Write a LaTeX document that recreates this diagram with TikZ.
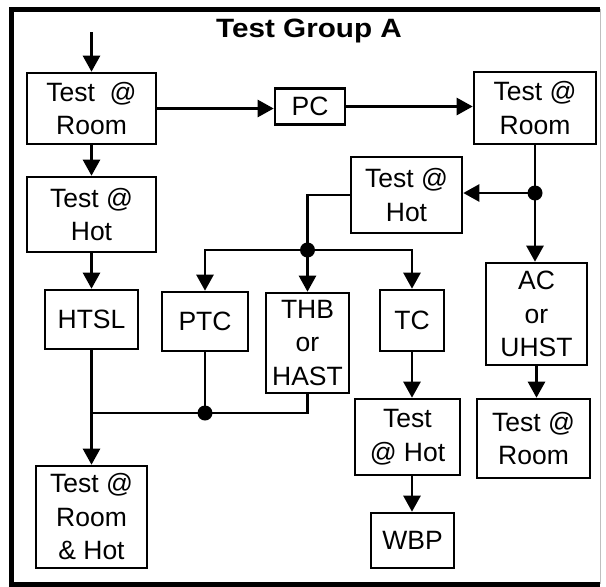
\documentclass[tikz,border=0pt]{standalone}
\usepackage{fontspec}
\setmainfont{Liberation Sans}
\usetikzlibrary{arrows.meta}
\begin{document}
\begin{tikzpicture}[x=1pt,y=-1pt,
  box/.style={draw,line width=2.6pt,rectangle,inner sep=0pt,align=center,
    font=\fontsize{26.5}{33.5}\selectfont},
  conn/.style={line width=2.6pt},
  arr/.style={conn,-{Triangle[length=16pt,width=17pt]}},
  dot/.style={circle,fill=black,inner sep=0pt,minimum size=15pt}]
\useasboundingbox (0,0) rectangle (606,587);
% frame
\draw[line width=5pt] (600,9) -- (11,9) -- (11,584) -- (600,584);
\draw[line width=1pt,black!25] (600,9) -- (600,584);
\node[font=\fontsize{26.5}{30}\selectfont\bfseries,xscale=1.12] (title) at (309,31) {Test Group A};
% boxes
\node[box,minimum width=129pt,minimum height=71pt] (r1) at (91.5,108.5) {Test\ \ @\\Room};
\node[box,minimum width=129pt,minimum height=75pt] (h1) at (91.5,214.5) {Test @\\Hot};
\node[box,minimum width=70pt,minimum height=36pt] (pc) at (310,106.5) {PC};
\node[box,minimum width=122pt,minimum height=72pt] (r2) at (535,108) {Test @\\Room};
\node[box,minimum width=111pt,minimum height=76pt] (h2) at (406.5,195) {Test @\\Hot};
\node[box,minimum width=101pt,minimum height=102pt] (ac) at (536.5,314) {AC\\or\\UHST};
\node[box,minimum width=113pt,minimum height=79pt] (r3) at (533.5,438.5) {Test @\\Room};
\node[box,minimum width=64pt,minimum height=61pt] (tc) at (412,320.5) {TC};
\node[box,minimum width=105pt,minimum height=76pt] (h3) at (407.5,437) {Test\\@ Hot};
\node[box,minimum width=83pt,minimum height=55pt] (wbp) at (412.5,540.5) {WBP};
\node[box,minimum width=83pt,minimum height=100pt] (thb) at (307.5,343) {THB\\or\\HAST};
\node[box,minimum width=86pt,minimum height=59pt] (ptc) at (205,321.5) {PTC};
\node[box,minimum width=93pt,minimum height=59pt] (htsl) at (91.5,319.5) {HTSL};
\node[box,minimum width=111pt,minimum height=102pt] (rh) at (91.5,517) {Test @\\Room\\\& Hot};
% coordinates
\coordinate (start) at (91.5,32);
\coordinate (j1) at (535,193);
\coordinate (j2) at (307.5,250);
\coordinate (j4) at (91.5,413);
\coordinate (j5) at (205,413);
% connectors
\draw[arr] (start) -- (r1.north);
\draw[arr] (r1.south) -- (h1.north);
\draw[arr] (h1.south) -- (htsl.north);
\draw[arr] (htsl.south) -- (rh.north);
\draw[arr] (r1.east) -- (r1.east -| pc.west);
\draw[arr] (pc.east) -- (pc.east -| r2.west);
\draw[arr] (r2.south) -- (r2.south |- ac.north);
\draw[arr] (j1) -- (j1 -| h2.east);
\draw[conn] (h2.west) -| (j2);
\draw[arr] (j2) -- (thb.north);
\draw[arr] (j2) -| (ptc.north);
\draw[arr] (j2) -| (tc.north);
\draw[conn] (thb.south) |- (j4);
\draw[conn] (ptc.south) -- (j5);
\draw[arr] (ac.south) -- (ac.south |- r3.north);
\draw[arr] (tc.south) -- (tc.south |- h3.north);
\draw[arr] (tc.south |- h3.south) -- (tc.south |- wbp.north);
\node[dot] at (j1) {};
\node[dot] at (j2) {};
\node[dot] at (j5) {};
\end{tikzpicture}
\end{document}
